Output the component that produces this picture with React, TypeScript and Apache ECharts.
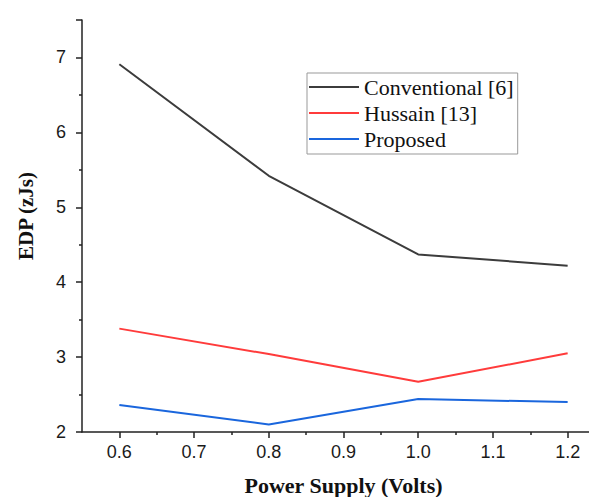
import React, { useEffect, useRef } from "react";
import * as echarts from "echarts";

const voltages = [0.6, 0.8, 1.0, 1.2];
const conventional = [6.91, 5.42, 4.37, 4.22];
const hussain = [3.38, 3.04, 2.67, 3.05];
const proposed = [2.36, 2.10, 2.44, 2.40];
const xMajorTicks = [0.6, 0.7, 0.8, 0.9, 1.0, 1.1, 1.2];
const xMinorTicks = [0.65, 0.75, 0.85, 0.95, 1.05, 1.15, 1.25];
const seriesNames = ["Conventional [6]", "Hussain [13]", "Proposed"];
const colors = ["#3c3c3c", "#ff3b3b", "#1a66dd"];

export default function App() {
  const ref = useRef<HTMLDivElement>(null);
  useEffect(() => {
    const chart = echarts.init(ref.current!, null, { renderer: "svg" });
    const sans = "'Liberation Sans', Arial, sans-serif";
    const serif = "'Liberation Serif', 'Times New Roman', serif";
    const mk = (vals: number[]) => voltages.map((v, i) => [v, vals[i]]);
    const all = [conventional, hussain, proposed];
    chart.setOption({
      animation: false,
      backgroundColor: "#ffffff",
      grid: { left: 82, top: 20, width: 523, height: 412, containLabel: false, outerBoundsMode: "none" },
      legend: {
        show: true,
        orient: "vertical",
        left: 307,
        top: 73,
        itemWidth: 50,
        itemHeight: 2,
        itemGap: 4,
        padding: [3, 4, 4, 2],
        borderColor: "#999",
        borderWidth: 1,
        icon: "rect",
        textStyle: { fontFamily: serif, fontSize: 22, color: "#111" },
        data: seriesNames,
      },
      xAxis: [
        {
          type: "value",
          min: 0.55,
          max: 1.25,
          splitLine: { show: false },
          axisLine: { lineStyle: { color: "#222", width: 1.5 } },
          axisTick: { show: true, length: 6, customValues: xMajorTicks, lineStyle: { color: "#222", width: 1.5 } },
          axisLabel: {
            customValues: xMajorTicks,
            fontFamily: sans,
            fontSize: 18,
            color: "#1a1a1a",
            margin: 11,
            formatter: (v: number) => v.toFixed(1),
          },
          name: "Power Supply (Volts)",
          nameLocation: "middle",
          nameGap: 42,
          nameTextStyle: { fontFamily: serif, fontSize: 22, fontWeight: "bold", color: "#111", lineHeight: 22 },
        },
        {
          type: "value",
          min: 0.55,
          max: 1.25,
          position: "bottom",
          splitLine: { show: false },
          axisLine: { show: false },
          axisTick: { show: true, length: 3, customValues: xMinorTicks, lineStyle: { color: "#222", width: 1.5 } },
          axisLabel: { show: false },
        },
      ],
      yAxis: {
        type: "value",
        min: 2,
        max: 7.5,
        interval: 1,
        splitLine: { show: false },
        axisLine: { show: true, lineStyle: { color: "#222", width: 1.5 } },
        axisTick: { show: true, length: 6, lineStyle: { color: "#222", width: 1.5 } },
        minorTick: { show: true, splitNumber: 2, length: 3, lineStyle: { color: "#222", width: 1.5 } },
        axisLabel: { fontFamily: sans, fontSize: 18, color: "#1a1a1a", margin: 16, showMaxLabel: false },
        name: "EDP (zJs)",
        nameLocation: "middle",
        nameGap: 46,
        nameTextStyle: { fontFamily: serif, fontSize: 21, fontWeight: "bold", color: "#111", padding: [0, 0, 0, 20] },
      },
      series: seriesNames.map((name, i) => ({
        name,
        type: "line",
        data: mk(all[i]),
        showSymbol: false,
        symbol: "none",
        lineStyle: { color: colors[i], width: 2 },
        itemStyle: { color: colors[i] },
      })),
    });
    return () => chart.dispose();
  }, []);
  return (
    <div style={{ position: "fixed", left: 0, top: 0, width: 589, height: 497, overflow: "hidden", background: "#fff" }}>
      <div ref={ref} style={{ width: 620, height: 497 }} />
    </div>
  );
}
